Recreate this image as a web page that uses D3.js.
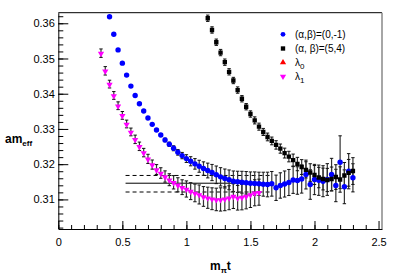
<!DOCTYPE html>
<html>
<head>
<meta charset="utf-8">
<script src="https://cdn.jsdelivr.net/npm/d3@7"></script>
<style>
body { margin: 0; background: #fff; }
text { font-family: "Liberation Sans", Arial, sans-serif; }
</style>
</head>
<body>
<div id="chart"></div>
<script>
// x = m_pi * t, time slices t are integers, a*m_pi = 1/30
var mpi = 1 / 30;
var blueT0 = 12, magT0 = 10, blackT0 = 35;

// (alpha,beta)=(0,-1)
var blueY = [0.36187, 0.35689, 0.35244, 0.34868, 0.34528, 0.34217, 0.33951, 0.33716, 0.33509, 0.33311,
    0.33130, 0.32971, 0.32830, 0.32688, 0.32564, 0.32451, 0.32337, 0.32244, 0.32159, 0.32083,
    0.32009, 0.31941, 0.31876, 0.31820, 0.31763, 0.31698, 0.31641, 0.31593, 0.31556, 0.31517,
    0.31500, 0.31488, 0.31471, 0.31460, 0.31451, 0.31443, 0.31432, 0.31423, 0.31443, 0.31330,
    0.31395, 0.31437, 0.31480, 0.31551, 0.31536, 0.31579, 0.31706, 0.31423, 0.31565, 0.31545,
    0.31517, 0.31565, 0.31706, 0.31395, 0.32055, 0.31358, 0.31800, 0.31613];
var blueErr = [0.0002, 0.0002, 0.0002, 0.0002, 0.0002, 0.0002, 0.0002, 0.0002, 0.0002, 0.0002,
    0.0003, 0.0003, 0.0004, 0.0005, 0.0006, 0.0007, 0.0008, 0.0009, 0.0011, 0.0013,
    0.0015, 0.0017, 0.0019, 0.0021, 0.0023, 0.0025, 0.0026, 0.0027, 0.0028, 0.0029,
    0.0030, 0.0031, 0.0032, 0.0032, 0.0033, 0.0033, 0.0034, 0.0035, 0.0035, 0.0036,
    0.0036, 0.0037, 0.0037, 0.0038, 0.0039, 0.0040, 0.0041, 0.0042, 0.0043, 0.0043,
    0.0044, 0.0045, 0.0046, 0.0046, 0.0075, 0.0048, 0.0050, 0.0040];

// (alpha, beta)=(5,4)
var blackY = [0.36142, 0.35810, 0.35462, 0.35168, 0.34896, 0.34622, 0.34375, 0.34104, 0.33857, 0.33631,
    0.33424, 0.33243, 0.33065, 0.32915, 0.32773, 0.32660, 0.32547, 0.32442, 0.32315, 0.32216,
    0.32117, 0.32004, 0.31919, 0.31839, 0.31763, 0.31692, 0.31621, 0.31579, 0.31551, 0.31579,
    0.31635, 0.31565, 0.31678, 0.31755, 0.31805];
var blackErr = [0.0009, 0.0009, 0.0009, 0.0009, 0.0009, 0.0009, 0.0009, 0.0009, 0.0009, 0.0009,
    0.0009, 0.0010, 0.0010, 0.0010, 0.0011, 0.0011, 0.0012, 0.0013, 0.0014, 0.0015,
    0.0017, 0.0019, 0.0021, 0.0023, 0.0025, 0.0027, 0.0029, 0.0031, 0.0033, 0.0034,
    0.0035, 0.0036, 0.0037, 0.0038, 0.0038];

// lambda_1
var magY = [0.35151, 0.34650, 0.34273, 0.33951, 0.33659, 0.33385, 0.33141, 0.32915, 0.32705, 0.32507,
    0.32329, 0.32151, 0.31989, 0.31848, 0.31749, 0.31650, 0.31559, 0.31486, 0.31415, 0.31347,
    0.31296, 0.31234, 0.31183, 0.31140, 0.31084, 0.31047, 0.31019, 0.30999, 0.30999, 0.31019,
    0.31047, 0.31092, 0.31047, 0.31064, 0.31092, 0.31140, 0.31188, 0.31205];
var magErr = [0.0012, 0.0012, 0.0011, 0.0011, 0.0011, 0.0011, 0.0011, 0.0011, 0.0012, 0.0012,
    0.0012, 0.0013, 0.0013, 0.0014, 0.0015, 0.0016, 0.0017, 0.0019, 0.0020, 0.0021,
    0.0023, 0.0024, 0.0025, 0.0027, 0.0028, 0.0030, 0.0031, 0.0032, 0.0033, 0.0034,
    0.0034, 0.0035, 0.0035, 0.0036, 0.0036, 0.0037, 0.0037, 0.0037];

// lambda_0 (only in legend, hidden below lambda_1)
var lam0Y = [];

// plateau fit
var fitMid = 0.3146, fitHi = 0.3168, fitLo = 0.3121;
var fitX = [0.525, 1.65];

var xTicks = [0, 0.5, 1, 1.5, 2, 2.5];
var yTicks = [0.31, 0.32, 0.33, 0.34, 0.35, 0.36];

var legendLabels = ["(\u03b1,\u03b2)=(0,-1)", "(\u03b1, \u03b2)=(5,4)", "\u03bb", "\u03bb"];

var width = 407,
    height = 278;

var x = d3.scaleLinear().domain([0, 2.527]).range([58.3, 382]);
var y = d3.scaleLinear().domain([0.3016, 0.363]).range([229, 12.7]);

var svg = d3.select("#chart").append("svg")
    .attr("width", width)
    .attr("height", height)
    .style("background", "#fff");

svg.append("clipPath").attr("id", "clip")
    .append("rect")
    .attr("x", x.range()[0]).attr("y", y.range()[1])
    .attr("width", x.range()[1] - x.range()[0])
    .attr("height", y.range()[0] - y.range()[1]);

function toPts(vals, errs, t0) {
    return vals.map(function (v, i) {
        return { x: (t0 + i) * mpi, y: v, e: errs[i] };
    });
}

var blue = toPts(blueY, blueErr, blueT0);
var black = toPts(blackY, blackErr, blackT0);
var mag = toPts(magY, magErr, magT0);

var plot = svg.append("g").attr("clip-path", "url(#clip)");

// fit lines
[[fitHi, "4,3"], [fitMid, null], [fitLo, "4,3"]].forEach(function (f) {
    plot.append("line")
        .attr("x1", x(fitX[0])).attr("x2", x(fitX[1]))
        .attr("y1", y(f[0])).attr("y2", y(f[0]))
        .attr("stroke", "#000")
        .attr("stroke-width", 1)
        .attr("stroke-dasharray", f[1]);
});

// error bars
function errBars(data) {
    var g = plot.append("g");
    data.forEach(function (d) {
        var px = x(d.x);
        g.append("line")
            .attr("x1", px).attr("x2", px)
            .attr("y1", y(d.y - d.e)).attr("y2", y(d.y + d.e))
            .attr("stroke", "#333").attr("stroke-width", 1.2);
        [d.y - d.e, d.y + d.e].forEach(function (v) {
            g.append("line")
                .attr("x1", px - 1.7).attr("x2", px + 1.7)
                .attr("y1", y(v)).attr("y2", y(v))
                .attr("stroke", "#111").attr("stroke-width", 1);
        });
    });
}
errBars(blue);
errBars(black);
errBars(mag);

var square = d3.symbol().type(d3.symbolSquare).size(19);
var tri = d3.symbol().type(d3.symbolTriangle).size(17);

plot.selectAll(".blue").data(blue).enter().append("circle")
    .attr("cx", function (d) { return x(d.x); })
    .attr("cy", function (d) { return y(d.y); })
    .attr("r", 2.7)
    .attr("fill", "#0000ff");

plot.selectAll(".black").data(black).enter().append("path")
    .attr("d", square)
    .attr("transform", function (d) { return "translate(" + x(d.x) + "," + y(d.y) + ")"; })
    .attr("fill", "#000");

plot.selectAll(".mag").data(mag).enter().append("path")
    .attr("d", tri)
    .attr("transform", function (d) { return "translate(" + x(d.x) + "," + (y(d.y) + 0.5) + ") rotate(180)"; })
    .attr("fill", "#ff00ff");

// axes, ROOT style ticks inside
svg.append("g").attr("transform", "translate(0," + y.range()[0] + ")")
    .call(d3.axisBottom(x).tickValues(xTicks).tickSizeInner(-8).tickSizeOuter(0).tickPadding(9)
        .tickFormat(d3.format("")));
svg.append("g").attr("transform", "translate(0," + y.range()[0] + ")")
    .call(d3.axisBottom(x).tickValues(d3.range(0, 25).map(function (i) { return i / 10; }))
        .tickSizeInner(-4).tickSizeOuter(0).tickFormat(""))
    .select(".domain").remove();

svg.append("g").attr("transform", "translate(" + x.range()[0] + ",0)")
    .call(d3.axisLeft(y).tickValues(yTicks).tickSizeInner(-10).tickSizeOuter(0).tickPadding(3.5)
        .tickFormat(d3.format(".2f")));
svg.append("g").attr("transform", "translate(" + x.range()[0] + ",0)")
    .call(d3.axisLeft(y).tickValues(d3.range(151, 182).map(function (i) { return i / 500; }))
        .tickSizeInner(-5).tickSizeOuter(0).tickFormat(""))
    .select(".domain").remove();

svg.selectAll(".tick text").attr("font-size", 11).attr("fill", "#000")
    .style("font-family", "'Liberation Sans', Arial, sans-serif");
svg.selectAll(".domain, .tick line").attr("stroke", "#000");

// frame top and right
svg.append("line")
    .attr("x1", x.range()[0]).attr("x2", x.range()[1])
    .attr("y1", y.range()[1]).attr("y2", y.range()[1])
    .attr("stroke", "#000");
svg.append("line")
    .attr("x1", x.range()[1]).attr("x2", x.range()[1])
    .attr("y1", y.range()[1]).attr("y2", y.range()[0])
    .attr("stroke", "#888").attr("stroke-width", 1.5);

// axis titles
var xt = svg.append("text").attr("x", 210).attr("y", 270)
    .attr("font-size", 12).attr("font-weight", "bold");
xt.append("tspan").text("m");
xt.append("tspan").attr("dy", 3).attr("font-size", 8).text("\u03c0");
xt.append("tspan").attr("dy", -3).text("t");

var yt = svg.append("text").attr("x", 5).attr("y", 143)
    .attr("font-size", 12).attr("font-weight", "bold");
yt.append("tspan").text("am");
yt.append("tspan").attr("dy", 3).attr("font-size", 8).text("eff");

// legend
var legY = [34.3, 48.5, 62.5, 76.5];
var leg = svg.append("g");
leg.append("circle").attr("cx", 283).attr("cy", legY[0]).attr("r", 2.4).attr("fill", "#0000ff");
leg.append("path").attr("d", square).attr("transform", "translate(283," + legY[1] + ")").attr("fill", "#000");
leg.append("path").attr("d", tri).attr("transform", "translate(283," + legY[2] + ")").attr("fill", "#ff0000");
leg.append("path").attr("d", tri).attr("transform", "translate(283," + legY[3] + ") rotate(180)").attr("fill", "#ff00ff");

legendLabels.forEach(function (s, i) {
    var t = leg.append("text").attr("x", 295).attr("y", legY[i] + 3.5).attr("font-size", 10);
    t.append("tspan").text(s);
    if (i >= 2) t.append("tspan").attr("dy", 3).attr("font-size", 8).text(i === 2 ? "0" : "1");
});
</script>
</body>
</html>
